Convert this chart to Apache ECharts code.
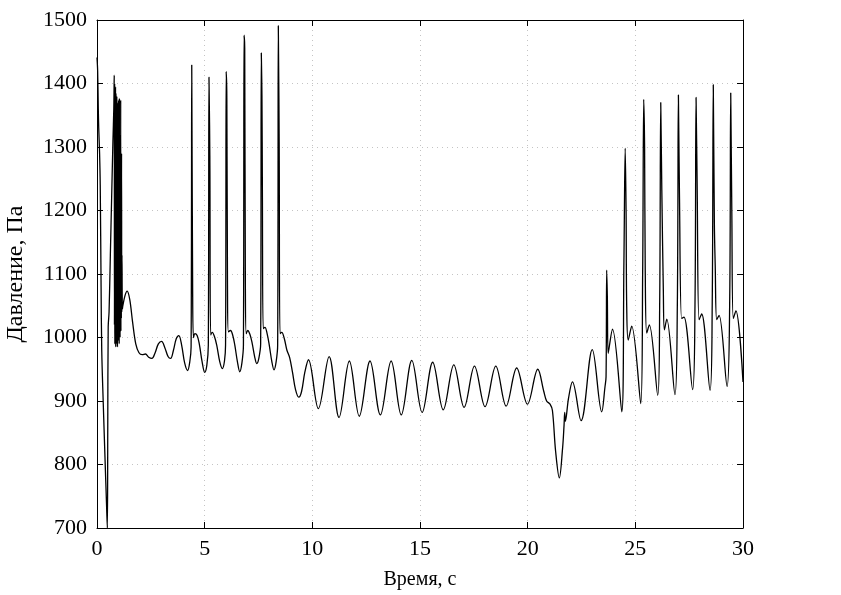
<!DOCTYPE html>
<html>
<head>
<meta charset="utf-8">
<script src="https://cdn.jsdelivr.net/npm/echarts@6/dist/echarts.min.js"></script>
<style>
html,body{margin:0;padding:0;background:#fff;}
#chart{width:841px;height:595px;}
</style>
</head>
<body>
<div id="chart"></div>
<script>
// Startup transient (0 - 1.2 s)
const startupTime = [0, 0.03, 0.06, 0.08, 0.12, 0.15, 0.19, 0.22, 0.29, 0.37, 0.44, 0.48, 0.50, 0.52, 0.56, 0.62, 0.68, 0.74, 0.78, 0.80, 0.81, 0.82, 0.83, 0.84, 0.85, 0.86, 0.87, 0.88, 0.89, 0.90, 0.91, 0.92, 0.93, 0.94, 0.95, 0.96, 0.97, 0.98, 0.99, 1.00, 1.01, 1.02, 1.03, 1.04, 1.05, 1.06, 1.07, 1.08, 1.09, 1.10, 1.11, 1.12, 1.13, 1.14, 1.15, 1.16, 1.18, 1.20];
const startupPressure = [1441, 1420, 1360, 1330, 1290, 1240, 1080, 980, 897, 812, 740, 700, 860, 1017, 1040, 1130, 1220, 1310, 1360, 1413, 1020, 1400, 990, 1390, 1000, 1395, 985, 1385, 1010, 1360, 990, 1380, 1000, 1330, 985, 1370, 1005, 1360, 995, 1374, 1010, 1340, 990, 1377, 1015, 1320, 1000, 1300, 1020, 1374, 1010, 1280, 1030, 1290, 1040, 1130, 1045, 1050];

// Pulsing stage (1.3 - 9.65 s)
const pulseTime = [1.30, 1.40, 1.52, 1.65, 1.80, 1.95, 2.10, 2.25, 2.40, 2.55, 2.70, 2.85, 3.00, 3.15, 3.30, 3.42, 3.55, 3.68, 3.80, 3.93, 4.07, 4.21, 4.31, 4.37, 4.40, 4.44, 4.48, 4.55, 4.65, 4.75, 4.88, 5.00, 5.10, 5.17, 5.20, 5.24, 5.28, 5.35, 5.45, 5.56, 5.70, 5.82, 5.92, 5.97, 6.00, 6.03, 6.06, 6.10, 6.20, 6.30, 6.40, 6.52, 6.63, 6.73, 6.80, 6.83, 6.86, 6.89, 6.93, 7.00, 7.10, 7.20, 7.32, 7.42, 7.52, 7.60, 7.63, 7.66, 7.68, 7.72, 7.80, 7.90, 8.00, 8.12, 8.22, 8.32, 8.39, 8.42, 8.46, 8.50, 8.58, 8.70, 8.82, 8.95, 9.08, 9.22, 9.37, 9.50, 9.65];
const pulsePressure = [1066, 1073, 1060, 1025, 990, 976, 973, 974, 969, 967, 976, 990, 994, 984, 970, 967, 980, 998, 1003, 988, 960, 948, 962, 985, 1429, 1090, 1000, 1006, 1003, 990, 962, 945, 956, 988, 1410, 1285, 1004, 1008, 1002, 988, 962, 951, 963, 988, 1419, 1377, 1082, 1009, 1011, 1004, 988, 962, 946, 960, 988, 1476, 1455, 1088, 1006, 1011, 1005, 992, 970, 959, 968, 990, 1448, 1380, 1237, 1014, 1016, 1006, 988, 962, 949, 962, 988, 1491, 1306, 1006, 1008, 998, 980, 968, 945, 918, 906, 915, 945];

// Regular oscillation stage (9.82 - 23.44 s)
const calmTime = [9.82, 10.28, 10.78, 11.24, 11.72, 12.18, 12.68, 13.16, 13.66, 14.13, 14.62, 15.10, 15.59, 16.08, 16.57, 17.05, 17.53, 18.02, 18.52, 19.00, 19.49, 19.99, 20.47, 20.75, 20.88, 21.04, 21.15, 21.30, 21.47, 21.62, 21.69, 21.72, 21.75, 21.90, 22.08, 22.48, 23.00, 23.44];
const calmPressure = [965, 888, 970, 874, 963, 876, 963, 878, 963, 878, 964, 882, 961, 886, 957, 890, 955, 891, 955, 892, 952, 895, 950, 915, 900, 895, 885, 820, 779, 825, 862, 882, 868, 905, 930, 869, 981, 883];

// Late pulsing stage (23.59 - 30 s)
const lateTime = [23.59, 23.64, 23.67, 23.70, 23.74, 23.94, 24.37, 24.47, 24.53, 24.57, 24.60, 24.67, 24.83, 25.25, 25.34, 25.39, 25.43, 25.46, 25.53, 25.65, 26.04, 26.13, 26.18, 26.23, 26.30, 26.35, 26.46, 26.84, 26.95, 27.00, 27.05, 27.15, 27.26, 27.66, 27.77, 27.82, 27.87, 27.96, 28.08, 28.47, 28.57, 28.62, 28.67, 28.71, 28.78, 28.89, 29.26, 29.38, 29.43, 29.48, 29.55, 29.67, 30.00];
const latePressure = [922, 938, 1106, 1064, 975, 1013, 883, 1120, 1298, 1201, 1048, 996, 1018, 896, 1101, 1375, 1300, 1106, 1007, 1020, 909, 1050, 1370, 1232, 1075, 1012, 1029, 910, 1050, 1382, 1222, 1030, 1032, 918, 1050, 1378, 1243, 1028, 1037, 917, 1050, 1398, 1180, 1113, 1028, 1035, 923, 1050, 1385, 1201, 1030, 1042, 930];

const xTicks = [0, 5, 10, 15, 20, 25, 30];
const yTicks = [700, 800, 900, 1000, 1100, 1200, 1300, 1400, 1500];
const xName = 'Время, с';
const yName = 'Давление, Па';

const allTime = startupTime.concat(pulseTime, calmTime, lateTime);
const allPressure = startupPressure.concat(pulsePressure, calmPressure, latePressure);
const seriesData = allTime.map((t, i) => [t, allPressure[i]]);

const FONT = 'Liberation Serif';
const chart = echarts.init(document.getElementById('chart'), null, {renderer: 'canvas'});

const tickStyle = {show: true, inside: true, length: 6, lineStyle: {color: '#000', width: 1}};
const lineStyleAxis = {show: true, onZero: false, lineStyle: {color: '#000', width: 1}};
const gridLine = {show: true, lineStyle: {color: '#c4c4c4', width: 1, type: [1, 4]}};
const plain = v => String(v);

chart.setOption({
  animation: false,
  backgroundColor: '#fff',
  grid: {left: 97, right: 98, top: 20, bottom: 67, containLabel: false, outerBoundsMode: 'none'},
  xAxis: [
    {
      type: 'value', min: xTicks[0], max: xTicks[xTicks.length - 1], interval: xTicks[1] - xTicks[0],
      position: 'bottom',
      axisLine: lineStyleAxis, axisTick: tickStyle,
      axisLabel: {color: '#000', fontFamily: FONT, fontSize: 22, margin: 10, formatter: plain},
      splitLine: gridLine,
      name: xName, nameLocation: 'middle', nameGap: 42,
      nameTextStyle: {color: '#000', fontFamily: FONT, fontSize: 20}
    },
    {
      type: 'value', min: xTicks[0], max: xTicks[xTicks.length - 1], interval: xTicks[1] - xTicks[0],
      position: 'top',
      axisLine: lineStyleAxis, axisTick: tickStyle,
      axisLabel: {show: false}, splitLine: {show: false}
    }
  ],
  yAxis: [
    {
      type: 'value', min: yTicks[0], max: yTicks[yTicks.length - 1], interval: yTicks[1] - yTicks[0],
      position: 'left',
      axisLine: lineStyleAxis, axisTick: tickStyle,
      axisLabel: {color: '#000', fontFamily: FONT, fontSize: 22, margin: 10, formatter: plain},
      splitLine: gridLine,
      name: yName, nameLocation: 'middle', nameGap: 69, nameRotate: 90,
      nameTextStyle: {color: '#000', fontFamily: FONT, fontSize: 24}
    },
    {
      type: 'value', min: yTicks[0], max: yTicks[yTicks.length - 1], interval: yTicks[1] - yTicks[0],
      position: 'right',
      axisLine: lineStyleAxis, axisTick: tickStyle,
      axisLabel: {show: false}, splitLine: {show: false}
    }
  ],
  series: [{
    type: 'line',
    xAxisIndex: 0, yAxisIndex: 0,
    data: seriesData,
    showSymbol: false,
    symbol: 'none',
    smooth: 0.36,
    clip: true,
    lineStyle: {color: '#000', width: 1.3},
    z: 5
  }]
});
</script>
</body>
</html>
